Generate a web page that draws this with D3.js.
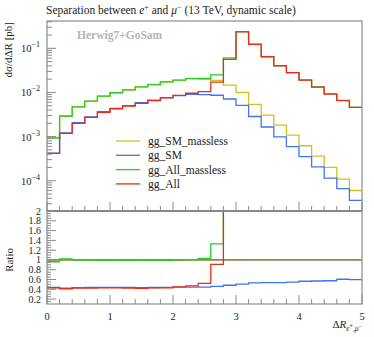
<!DOCTYPE html>
<html>
<head>
<meta charset="utf-8">
<script src="https://cdn.jsdelivr.net/npm/d3@7"></script>
<style>
  body { margin: 0; background: #fff; }
  svg text { font-family: "Liberation Serif", "DejaVu Serif", serif; fill: #222; }
</style>
</head>
<body>
<div id="viz"></div>
<script>
// bin edges 0..5, width 0.2
var binEdges = [0,0.2,0.4,0.6,0.8,1.0,1.2,1.4,1.6,1.8,2.0,2.2,2.4,2.6,2.8,3.0,3.2,3.4,3.6,3.8,4.0,4.2,4.4,4.6,4.8,5.0];

var smMassless = [9.6e-4,2.87e-3,4.72e-3,6.38e-3,8.3e-3,9.9e-3,1.15e-2,1.34e-2,1.52e-2,1.74e-2,1.9e-2,2.05e-2,
                  2.01e-2,1.88e-2,1.47e-2,1.005e-2,5.37e-3,3.08e-3,1.82e-3,1.08e-3,6.2e-4,3.6e-4,2.0e-4,1.09e-4,6.0e-5];
var sm = [4.2e-4,1.22e-3,2.06e-3,2.8e-3,3.65e-3,4.35e-3,5.05e-3,5.85e-3,6.65e-3,7.65e-3,8.45e-3,9.1e-3,
          8.95e-3,8.65e-3,7.1e-3,5.1e-3,2.85e-3,1.65e-3,9.8e-4,5.9e-4,3.5e-4,2.05e-4,1.15e-4,6.6e-5,3.6e-5];
var allMassless = [9.25e-4,2.93e-3,4.72e-3,6.35e-3,8.25e-3,9.85e-3,1.14e-2,1.335e-2,1.51e-2,1.73e-2,1.9e-2,2.06e-2,
                   2.07e-2,2.5e-2,6.1e-2,0.238,0.124,6.5e-2,4.05e-2,2.82e-2,1.93e-2,1.34e-2,9.3e-3,6.6e-3,4.6e-3];
var all = [4.15e-4,1.18e-3,2.0e-3,2.72e-3,3.55e-3,4.27e-3,4.9e-3,5.65e-3,6.5e-3,7.5e-3,8.55e-3,9.6e-3,
           1.045e-2,1.71e-2,5.63e-2,0.236,0.123,6.45e-2,4.03e-2,2.8e-2,1.91e-2,1.325e-2,9.2e-3,6.5e-3,4.59e-3];

var seriesNames = ["gg_SM_massless", "gg_SM", "gg_All_massless", "gg_All"];
var seriesColors = ["#cfc21e", "#3f74f2", "#27cc20", "#ec2a18"];
var seriesValues = [smMassless, sm, allMassless, all];

var xTicks = [0,1,2,3,4,5];
var logDecades = [1e-4,1e-3,1e-2,1e-1];
var ratioTicks = [0.2,0.4,0.6,0.8,1,1.2,1.4,1.6,1.8,2];

var W = 374, H = 337;
var left = 47, right = 362, mainTop = 21, mainBottom = 211, ratioBottom = 304;

var svg = d3.select('#viz').append('svg')
    .attr('width', W)
    .attr('height', H);

var x = d3.scaleLinear().domain([0,5]).range([left, right]);
var y = d3.scaleLog().domain([2.06e-5, 0.416]).range([mainBottom, mainTop]);
var yr = d3.scaleLinear().domain([0.1, 2.0]).range([ratioBottom, mainBottom]);

var defs = svg.append('defs');
defs.append('clipPath').attr('id','clipMain').append('rect')
    .attr('x', left).attr('y', mainTop).attr('width', right-left).attr('height', mainBottom-mainTop);
defs.append('clipPath').attr('id','clipRatio').append('rect')
    .attr('x', left).attr('y', mainBottom).attr('width', right-left).attr('height', ratioBottom-mainBottom);

function stepPoints(vals) {
    var pts = [];
    vals.forEach(function(v, i) {
        pts.push([binEdges[i], v]);
        pts.push([binEdges[i+1], v]);
    });
    return pts;
}

var mainLine = d3.line().x(function(d){ return x(d[0]); }).y(function(d){ return y(d[1]); });
var ratioLine = d3.line().x(function(d){ return x(d[0]); }).y(function(d){ return Math.max(yr(d[1]), mainBottom - 5); });

// main histograms
var gMain = svg.append('g').attr('clip-path','url(#clipMain)');
seriesValues.forEach(function(vals, k) {
    gMain.append('path')
        .attr('d', mainLine(stepPoints(vals)))
        .attr('fill','none')
        .attr('stroke', seriesColors[k])
        .attr('stroke-width', 1.3);
});

// ratio histograms (relative to gg_SM_massless)
var gRatio = svg.append('g').attr('clip-path','url(#clipRatio)');
seriesValues.forEach(function(vals, k) {
    var r = vals.map(function(v, i){ return v / smMassless[i]; });
    gRatio.append('path')
        .attr('d', ratioLine(stepPoints(r)))
        .attr('fill','none')
        .attr('stroke', seriesColors[k])
        .attr('stroke-width', 1.3);
    if (k == 0) {
        gRatio.append('line')
            .attr('x1', left).attr('x2', right)
            .attr('y1', yr(1)).attr('y2', yr(1))
            .attr('stroke', '#555').attr('stroke-width', 1);
    }
});

// frames
var frameColor = '#8a8a8a';
svg.append('rect').attr('x', left).attr('y', mainTop).attr('width', right-left).attr('height', mainBottom-mainTop)
    .attr('fill','none').attr('stroke', frameColor).attr('stroke-width', 1.2);
svg.append('rect').attr('x', left).attr('y', mainBottom).attr('width', right-left).attr('height', ratioBottom-mainBottom)
    .attr('fill','none').attr('stroke', frameColor).attr('stroke-width', 1.2);
svg.append('line').attr('x1', left).attr('x2', right).attr('y1', mainBottom).attr('y2', mainBottom)
    .attr('stroke', frameColor).attr('stroke-width', 2);

// x ticks (inward) on both panels
var xMinor = d3.range(0, 5.0001, 0.2);
[mainBottom, ratioBottom].forEach(function(yb) {
    var g = svg.append('g');
    g.selectAll('line.minor').data(xMinor).enter().append('line')
        .attr('x1', function(d){ return x(d); }).attr('x2', function(d){ return x(d); })
        .attr('y1', yb).attr('y2', function(d){ return yb - (Math.abs(d - Math.round(d)) < 1e-6 ? 9 : 5); })
        .attr('stroke', frameColor).attr('stroke-width', 1);
});
svg.append('g').selectAll('text').data(xTicks).enter().append('text')
    .attr('x', function(d){ return x(d); })
    .attr('y', 320)
    .attr('text-anchor','middle')
    .attr('font-size', 10.5)
    .text(function(d){ return d; });

// main y ticks (log)
var yMinor = [];
[1e-5,1e-4,1e-3,1e-2,1e-1].forEach(function(dec) {
    for (var m = 1; m < 10; m++) {
        var v = dec * m;
        if (v >= y.domain()[0] && v <= y.domain()[1]) yMinor.push({v: v, major: m == 1});
    }
});
svg.append('g').selectAll('line').data(yMinor).enter().append('line')
    .attr('x1', left).attr('x2', function(d){ return left + (d.major ? 9 : 5); })
    .attr('y1', function(d){ return y(d.v); }).attr('y2', function(d){ return y(d.v); })
    .attr('stroke', frameColor).attr('stroke-width', 1);
var yl = svg.append('g').selectAll('text').data(logDecades).enter().append('text')
    .attr('x', 40)
    .attr('y', function(d){ return y(d) + 4; })
    .attr('text-anchor','end')
    .attr('font-size', 10.5);
yl.append('tspan').text('10');
yl.append('tspan').attr('dy', -5).attr('font-size', 8)
    .text(function(d){ return '\u2212' + Math.round(-Math.log10(d)); });

// ratio y ticks
var rMinor = d3.range(0.15, 2.0001, 0.05);
svg.append('g').selectAll('line').data(rMinor).enter().append('line')
    .attr('x1', left).attr('x2', function(d){ return left + (Math.abs(d*5 - Math.round(d*5)) < 1e-6 ? 9 : 4); })
    .attr('y1', function(d){ return yr(d); }).attr('y2', function(d){ return yr(d); })
    .attr('stroke', frameColor).attr('stroke-width', 1);
svg.append('g').selectAll('text').data(ratioTicks).enter().append('text')
    .attr('x', 41)
    .attr('y', function(d){ return yr(d) + 3.5; })
    .attr('text-anchor','end')
    .attr('font-size', 10)
    .text(function(d){ return d; });

// title
var title = svg.append('text').attr('x', 46).attr('y', 14).attr('font-size', 11.5);
title.append('tspan').text('Separation between ');
title.append('tspan').attr('font-style','italic').text('e');
title.append('tspan').attr('dy', -4).attr('font-size', 8).text('+');
title.append('tspan').attr('dy', 4).text(' and ');
title.append('tspan').attr('font-style','italic').text('\u03bc');
title.append('tspan').attr('dy', -4).attr('font-size', 8).text('\u2212');
title.append('tspan').attr('dy', 4).text(' (13 TeV, dynamic scale)');

// generator label
svg.append('text').attr('x', 77).attr('y', 39)
    .attr('font-size', 11.5).attr('font-weight','bold')
    .style('fill', '#b4b4b4')
    .text('Herwig7+GoSam');

// y axis labels
svg.append('text')
    .attr('transform', 'translate(12,22) rotate(-90)')
    .attr('text-anchor','end')
    .attr('font-size', 11)
    .text('d\u03c3/d\u0394R [pb]');
svg.append('text')
    .attr('transform', 'translate(13,' + yr(1) + ') rotate(-90)')
    .attr('text-anchor','middle')
    .attr('font-size', 11)
    .text('Ratio');

// x axis label
var xl = svg.append('text').attr('x', 362).attr('y', 328).attr('text-anchor','end').attr('font-size', 11);
xl.append('tspan').text('\u0394');
xl.append('tspan').attr('font-style','italic').text('R');
xl.append('tspan').attr('dy', 3).attr('font-size', 7.5).attr('font-style','italic').text('e');
xl.append('tspan').attr('dy', -3).attr('font-size', 6).text('+');
xl.append('tspan').attr('dy', 3).attr('font-size', 7.5).text(',');
xl.append('tspan').attr('font-size', 7.5).attr('font-style','italic').text('\u03bc');
xl.append('tspan').attr('dy', -3).attr('font-size', 6).text('\u2212');

// legend
var legend = svg.append('g');
seriesNames.forEach(function(name, k) {
    var ly = 141 + k * 14.3;
    legend.append('line')
        .attr('x1', 116).attr('x2', 140).attr('y1', ly).attr('y2', ly)
        .attr('stroke', seriesColors[k]).attr('stroke-width', 1.3);
    legend.append('text')
        .attr('x', 148).attr('y', ly + 4)
        .attr('font-size', 11.5)
        .text(name);
});
</script>
</body>
</html>
